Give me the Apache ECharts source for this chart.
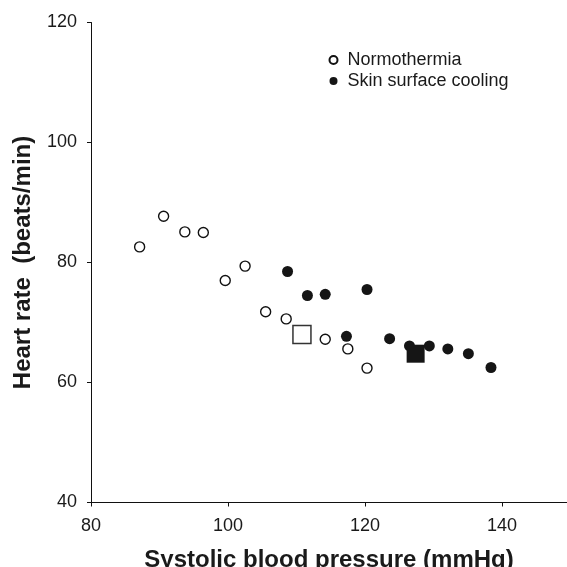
<!DOCTYPE html>
<html>
<head>
<meta charset="utf-8">
<script src="https://cdn.jsdelivr.net/npm/echarts@6/dist/echarts.min.js"></script>
<style>
  html, body { margin: 0; padding: 0; background: #fff; }
  #chart { width: 567px; height: 567px; }
</style>
</head>
<body>
<div id="chart"></div>
<script>
// systolic BP (mmHg), heart rate (beats/min)
const normoSbp = [87.1, 90.6, 93.7, 96.4, 99.6, 102.5, 105.5, 108.5, 114.2, 117.5, 120.3];
const normoHr  = [82.6, 87.7, 85.1, 85.0, 77.0, 79.4, 71.8, 70.6, 67.2, 65.6, 62.4];
const coolSbp  = [108.7, 111.6, 114.2, 120.3, 117.3, 123.6, 126.5, 129.4, 132.1, 135.1, 138.4];
const coolHr   = [78.5, 74.5, 74.7, 75.5, 67.7, 67.3, 66.1, 66.1, 65.6, 64.8, 62.5];
// group means
const normoMean = [110.8, 68.0];
const coolMean  = [127.4, 64.8];
const xTicks = [80, 100, 120, 140];
const yTicks = [40, 60, 80, 100, 120];

const FONT = '"Liberation Sans", Arial, sans-serif';
const pair = (xs, ys) => xs.map((x, i) => [x, ys[i]]);

const chart = echarts.init(document.getElementById('chart'), null, { renderer: 'canvas' });

chart.setOption({
  animation: false,
  backgroundColor: '#fff',
  grid: { left: 91, right: 0, top: 22.5, bottom: 64.5, outerBoundsMode: 'none', containLabel: false },
  legend: {
    orient: 'vertical',
    left: 323.5,
    top: 46,
    itemWidth: 8,
    itemHeight: 8,
    itemGap: 3,
    icon: 'circle',
    data: ['Normothermia', 'Skin surface cooling'],
    textStyle: { fontFamily: FONT, fontSize: 18, color: '#1a1a1a', padding: [0, 0, 0, 5] }
  },
  xAxis: {
    type: 'value',
    min: xTicks[0],
    max: 149.5,
    interval: 20,
    name: 'Systolic blood pressure (mmHg)',
    nameLocation: 'middle',
    nameGap: 46,
    nameTextStyle: { fontFamily: FONT, fontSize: 24, fontWeight: 'bold', color: '#1a1a1a' },
    axisLine: { lineStyle: { color: '#111', width: 1 } },
    axisTick: { show: true, length: 4, lineStyle: { color: '#111' } },
    axisLabel: {
      fontFamily: FONT, fontSize: 18, color: '#1a1a1a', margin: 15,
      formatter: v => (xTicks.indexOf(v) >= 0 ? String(v) : '')
    },
    splitLine: { show: false }
  },
  yAxis: {
    type: 'value',
    min: yTicks[0],
    max: yTicks[yTicks.length - 1],
    interval: 20,
    name: 'Heart rate  (beats/min)',
    nameLocation: 'middle',
    nameGap: 56,
    nameTextStyle: { fontFamily: FONT, fontSize: 24, fontWeight: 'bold', color: '#1a1a1a' },
    axisLine: { show: true, lineStyle: { color: '#111', width: 1 } },
    axisTick: { show: true, length: 4, lineStyle: { color: '#111' } },
    axisLabel: { fontFamily: FONT, fontSize: 18, color: '#1a1a1a', margin: 14 },
    splitLine: { show: false }
  },
  series: [
    {
      name: 'Normothermia',
      type: 'scatter',
      symbol: 'circle',
      symbolSize: 10,
      itemStyle: { color: '#fff', borderColor: '#111', borderWidth: 1.4, opacity: 1 },
      data: pair(normoSbp, normoHr)
    },
    {
      name: 'Skin surface cooling',
      type: 'scatter',
      symbol: 'circle',
      symbolSize: 11,
      itemStyle: { color: '#151515', borderColor: '#151515', borderWidth: 0, opacity: 1 },
      data: pair(coolSbp, coolHr)
    },
    {
      name: 'Normothermia mean',
      type: 'scatter',
      symbol: 'rect',
      symbolSize: 18,
      itemStyle: { color: '#fff', borderColor: '#333', borderWidth: 1.5, opacity: 1 },
      data: [normoMean]
    },
    {
      name: 'Skin surface cooling mean',
      type: 'scatter',
      symbol: 'rect',
      symbolSize: 18,
      itemStyle: { color: '#151515', opacity: 1 },
      data: [coolMean]
    }
  ]
});
</script>
</body>
</html>
